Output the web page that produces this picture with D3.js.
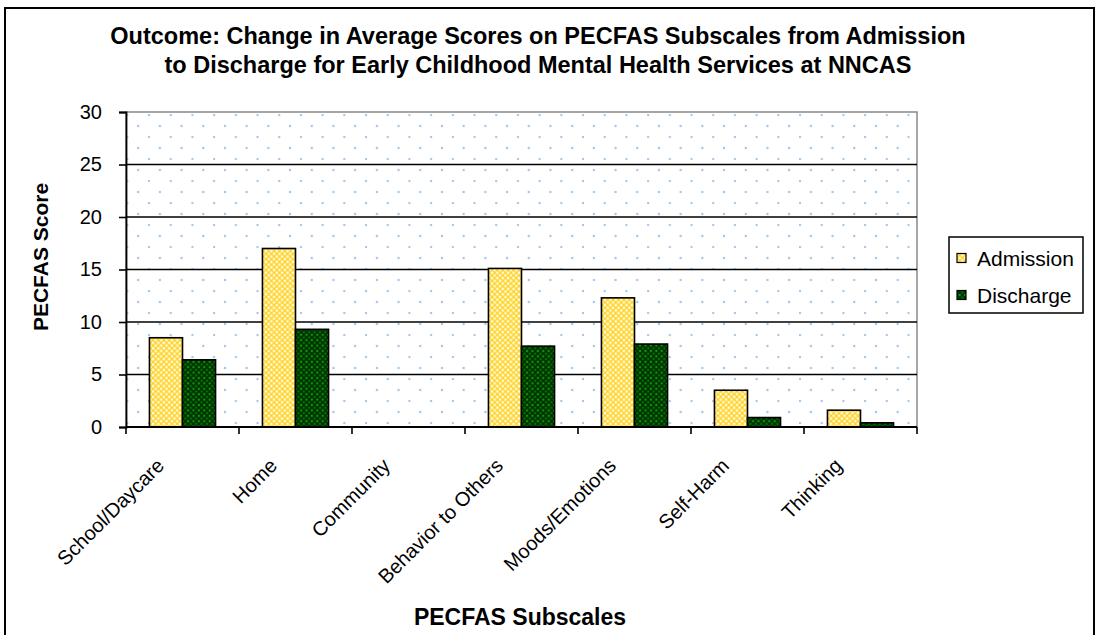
<!DOCTYPE html>
<html>
<head>
<meta charset="utf-8">
<script src="https://cdn.jsdelivr.net/npm/d3@7"></script>
<style>
  html, body { margin: 0; padding: 0; background: #fff; }
  svg { display: block; font-family: Arial, "Liberation Sans", sans-serif; }
</style>
</head>
<body>
<svg id="chart" width="1099" height="635"></svg>
<script>
// PECFAS subscale averages at admission and discharge
const categories = ["School/Daycare", "Home", "Community", "Behavior to Others", "Moods/Emotions", "Self-Harm", "Thinking"];
const seriesNames = ["Admission", "Discharge"];
const admission = [8.5, 17.0, 0, 15.1, 12.3, 3.5, 1.6];
const discharge = [6.4, 9.3, 0, 7.7, 7.9, 0.9, 0.4];
const yTicks = [0, 5, 10, 15, 20, 25, 30];
const titleLines = [
  "Outcome: Change in Average Scores on PECFAS Subscales from Admission",
  "to Discharge for Early Childhood Mental Health Services at NNCAS"
];

const rows = categories.map((c, i) => ({ cat: c, Admission: admission[i], Discharge: discharge[i] }));

const svg = d3.select("#chart");
const plot = { left: 126, right: 917, top: 112, bottom: 427 };

const defs = svg.append("defs");

// light blue dotted plot background
const dots = defs.append("pattern")
  .attr("id", "dots").attr("patternUnits", "userSpaceOnUse")
  .attr("x", 148).attr("y", 114).attr("width", 21.7).attr("height", 22);
dots.append("rect").attr("width", 21.7).attr("height", 22).attr("fill", "#fff");
dots.append("circle").attr("cx", 1).attr("cy", 1).attr("r", 1.2).attr("fill", "#9ec8f0");
dots.append("circle").attr("cx", 11.85).attr("cy", 12).attr("r", 1.2).attr("fill", "#9ec8f0");

// lattice fills for the two series
function lattice(id, bg, line, spot) {
  const s = 5.4;
  const p = defs.append("pattern").attr("id", id).attr("patternUnits", "userSpaceOnUse")
    .attr("width", s).attr("height", s);
  p.append("rect").attr("width", s).attr("height", s).attr("fill", bg);
  p.append("path").attr("d", `M0,0L${s},${s}M${s},0L0,${s}`).attr("stroke", line).attr("stroke-width", 1.2);
  p.append("circle").attr("cx", s / 2).attr("cy", 0).attr("r", 0.8).attr("fill", spot);
  p.append("circle").attr("cx", s / 2).attr("cy", s).attr("r", 0.8).attr("fill", spot);
  return `url(#${id})`;
}
const fills = {
  Admission: lattice("admFill", "#fffbe0", "#ffcf1a", "#fff6c0"),
  Discharge: lattice("disFill", "#006b00", "#002800", "#22a022")
};

// outer frame
svg.append("rect").attr("x", 5).attr("y", 8).attr("width", 1089).attr("height", 640)
  .attr("fill", "#fff").attr("stroke", "#000").attr("stroke-width", 2);

// scales
const x0 = d3.scaleBand().domain(categories).range([plot.left, plot.right]).padding(0);
const x1 = d3.scaleBand().domain(seriesNames).range([0, x0.bandwidth()]).paddingInner(0).paddingOuter(0.71);
const y = d3.scaleLinear().domain([0, 30]).range([plot.bottom, plot.top]);

// plot background
svg.append("rect").attr("x", plot.left).attr("y", plot.top)
  .attr("width", plot.right - plot.left).attr("height", plot.bottom - plot.top)
  .attr("fill", "url(#dots)").attr("stroke", "#888").attr("stroke-width", 1.5);

// gridlines
svg.append("g").selectAll("line").data(yTicks.filter(t => t > 0 && t < 30)).join("line")
  .attr("x1", plot.left).attr("x2", plot.right)
  .attr("y1", d => y(d)).attr("y2", d => y(d))
  .attr("stroke", "#000").attr("stroke-width", 1.6);

// bars
const groups = svg.append("g").selectAll("g").data(rows).join("g")
  .attr("transform", d => `translate(${x0(d.cat)},0)`);
groups.selectAll("rect").data(d => seriesNames.map(s => ({ s, v: d[s] })).filter(e => e.v > 0)).join("rect")
  .attr("x", e => x1(e.s)).attr("width", x1.bandwidth())
  .attr("y", e => y(e.v)).attr("height", e => y(0) - y(e.v))
  .attr("fill", e => fills[e.s]).attr("stroke", "#000").attr("stroke-width", 1.6);

// y axis
const yAxis = svg.append("g").attr("transform", `translate(${plot.left},0)`)
  .call(d3.axisLeft(y).tickValues(yTicks).tickSize(7).tickPadding(17));
yAxis.select(".domain").attr("stroke", "#000").attr("stroke-width", 1.8);
yAxis.selectAll(".tick line").attr("stroke", "#000").attr("stroke-width", 1.6);
yAxis.selectAll(".tick text").attr("font-size", 20).attr("fill", "#000")
  .attr("font-family", "Arial, 'Liberation Sans', sans-serif");

// x axis with ticks at category boundaries
const xAxis = svg.append("g").attr("transform", `translate(0,${plot.bottom})`);
xAxis.append("line").attr("x1", plot.left).attr("x2", plot.right).attr("stroke", "#000").attr("stroke-width", 1.8);
const bounds = categories.map(c => x0(c)).concat([plot.right]);
xAxis.selectAll("line.tk").data(bounds).join("line").attr("class", "tk")
  .attr("x1", d => d).attr("x2", d => d).attr("y1", 0).attr("y2", 7)
  .attr("stroke", "#000").attr("stroke-width", 1.6);
xAxis.selectAll("text").data(categories).join("text")
  .attr("transform", d => `translate(${x0(d) + x0.bandwidth() / 2 - 27},${30}) rotate(-45)`)
  .attr("text-anchor", "end").attr("dy", "0.7em")
  .attr("font-size", 20).attr("fill", "#000")
  .text(d => d);

// title
svg.append("g").selectAll("text").data(titleLines).join("text")
  .attr("x", 538).attr("y", (d, i) => 44 + i * 29)
  .attr("text-anchor", "middle").attr("font-weight", "bold").attr("font-size", 23.5)
  .text(d => d);

// axis titles
svg.append("text").attr("transform", "translate(48,257) rotate(-90)")
  .attr("text-anchor", "middle").attr("font-weight", "bold").attr("font-size", 21)
  .text("PECFAS Score");
svg.append("text").attr("x", 520).attr("y", 625)
  .attr("text-anchor", "middle").attr("font-weight", "bold").attr("font-size", 23)
  .text("PECFAS Subscales");

// legend
const lg = svg.append("g");
lg.append("rect").attr("x", 949).attr("y", 237).attr("width", 134).attr("height", 76)
  .attr("fill", "#fff").attr("stroke", "#000").attr("stroke-width", 1.5);
const li = lg.selectAll("g").data(seriesNames).join("g")
  .attr("transform", (d, i) => `translate(957,${258 + i * 37})`);
li.append("rect").attr("x", 0).attr("y", -4.5).attr("width", 9).attr("height", 9)
  .attr("fill", d => fills[d]).attr("stroke", "#000").attr("stroke-width", 1.2);
li.append("text").attr("x", 20).attr("y", 0).attr("dy", "0.36em")
  .attr("font-size", 21).attr("fill", "#000").text(d => d);
</script>
</body>
</html>
